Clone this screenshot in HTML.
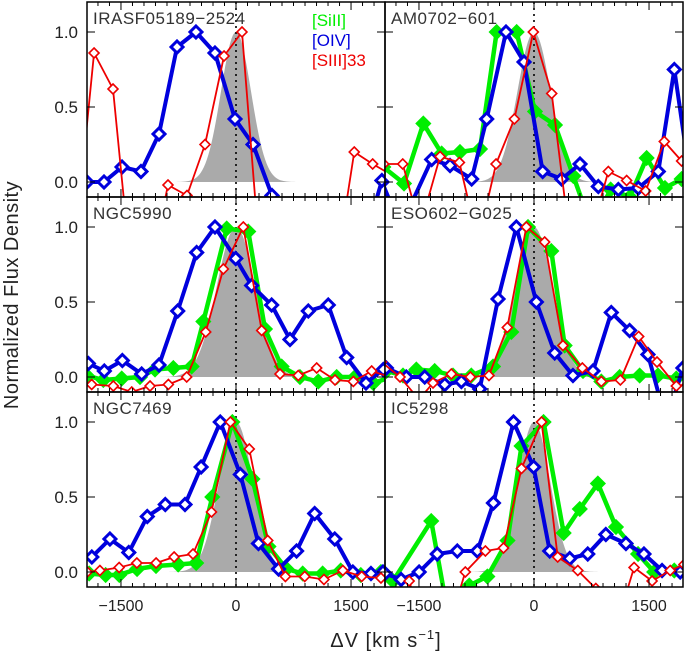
<!DOCTYPE html>
<html><head><meta charset="utf-8"><style>
html,body{margin:0;padding:0;background:#fff;}
svg{display:block;font-family:"Liberation Sans","DejaVu Sans",sans-serif;}
</style></head><body>
<svg id="chart" width="689" height="656" viewBox="0 0 689 656"></svg>
<script>
// ---- data ----
const panelNames = ["IRASF05189\u22122524","AM0702\u2212601","NGC5990","ESO602\u2212G025","NGC7469","IC5298"];
const gaussSigma = [195, 215, 250, 240, 220, 210];
const xTicks = [-1500, 0, 1500];
const xTickLabels = ["\u22121500", "0", "1500"];
const yTicks = [0, 0.5, 1.0];
const yTickLabels = ["0.0", "0.5", "1.0"];

// panel 0
const p0BlueV = [-1943,-1721,-1486,-1239,-1004,-769,-522,-274,-13,222,469,710,950,1190,1430,1670,1903];
const p0BlueF = [0,0,0.1,0.07,0.32,0.9,1.0,0.86,0.42,0.25,-0.09,-0.4,-0.4,-0.4,-0.4,-0.4,0.01];
const p0RedV = [-2095,-1851,-1604,-1369,-1121,-887,-639,-404,-156,78,326,560,800,1060,1300,1542,1782,2020];
const p0RedF = [-0.4,0.86,0.62,-0.6,-0.6,-0.02,-0.09,0.25,0.84,1.0,-0.6,-0.6,-0.6,-0.6,-0.6,0.2,0.12,0.05];
// panel 1
const p1GreenV = [-1965,-1695,-1443,-1204,-965,-704,-487,-226,13,274,513,750,1000,1250,1469,1708,1925];
const p1GreenF = [0.1,-0.01,0.39,0.19,0.2,0.22,1.0,1.0,0.47,0.38,0.04,-0.3,-0.05,-0.1,0.16,-0.04,0.02];
const p1BlueV = [-1982,-1740,-1334,-1095,-813,-617,-365,-130,113,361,600,839,1100,1360,1621,1830,2070];
const p1BlueF = [0.0,-0.3,0.15,0.11,0.02,0.42,1.0,0.8,0.07,0.02,0.12,-0.03,-0.05,-0.04,0.07,0.75,-0.1];
const p1RedV = [-1960,-1712,-1486,-1225,-973,-730,-495,-256,-9,231,470,710,969,1208,1456,1699,1925];
const p1RedF = [0.12,0.12,-0.3,0.17,0.13,-0.4,0.12,0.42,1.0,0.59,-0.4,-0.4,0.07,0.01,-0.06,0.27,0.14];
// panel 2
const p2GreenV = [-1947,-1730,-1490,-1252,-1056,-817,-578,-426,-121,160,378,596,834,1073,1313,1552,1790,2030];
const p2GreenF = [0.01,-0.02,-0.01,0.0,0.05,0.06,0.07,0.37,0.99,0.97,0.32,0.07,0.0,-0.03,0.0,0.0,-0.04,0.0];
const p2BlueV = [-1925,-1717,-1482,-1230,-1004,-760,-513,-274,-4,204,465,704,943,1203,1443,1695,1921];
const p2BlueF = [0.09,0.04,0.11,0.02,0.08,0.44,0.83,1.0,0.79,0.61,0.48,0.25,0.44,0.48,0.13,-0.04,0.05];
const p2RedV = [-1882,-1600,-1360,-1121,-882,-643,-395,-165,95,335,574,812,1052,1291,1530,1769,2008];
const p2RedF = [-0.05,-0.06,-0.1,-0.06,-0.05,0.0,0.3,0.72,1.0,0.31,0.02,0.01,0.06,-0.02,-0.03,0.04,0.0];
// panel 3
const p3GreenV = [-1925,-1708,-1534,-1295,-1056,-817,-534,-296,-78,226,400,639,878,1117,1378,1617,1856];
const p3GreenF = [0.04,0.01,0.05,0.04,0.01,0.01,0.07,0.3,1.0,0.84,0.21,0.04,-0.03,0.0,0.01,0.01,-0.01];
const p3BlueV = [-1925,-1665,-1425,-1164,-947,-708,-469,-230,31,270,508,769,1008,1247,1486,1725,1942];
const p3BlueF = [0.06,0.0,0.0,-0.05,-0.03,-0.08,0.52,1.0,0.5,0.16,0.01,0.04,0.43,0.31,0.15,-0.3,0.06];
const p3RedV = [-1990,-1747,-1500,-1317,-1078,-830,-587,-348,-100,139,378,630,878,1126,1365,1604,1856,2000];
const p3RedF = [0.1,0.0,-0.15,-0.04,0.02,0.0,0.01,0.33,1.0,0.9,0.21,0.06,-0.03,-0.02,0.27,0.1,-0.06,-0.05];
// panel 4
const p4GreenV = [-1915,-1700,-1522,-1290,-1043,-754,-519,-309,-47,215,424,660,870,1130,1366,1628,1890];
const p4GreenF = [-0.01,-0.02,-0.02,0.02,0.04,0.05,0.06,0.5,1.0,0.62,0.17,0.02,-0.01,-0.01,0.01,-0.02,0.0];
const p4BlueV = [-1880,-1644,-1398,-1157,-922,-665,-455,-205,57,293,555,790,1026,1288,1524,1760,1917];
const p4BlueF = [0.1,0.22,0.13,0.37,0.45,0.45,0.7,1.0,0.65,0.19,0.02,0.14,0.39,0.22,0.0,-0.01,0.0];
const p4RedV = [-1940,-1775,-1524,-1293,-1042,-807,-561,-320,-73,173,414,644,896,1147,1393,1639,1890];
const p4RedF = [0.0,0.01,0.03,0.06,0.06,0.1,0.12,0.4,1.0,0.82,0.21,-0.03,-0.03,-0.05,0.01,-0.03,-0.04];
// panel 5
const p5GreenV = [-1838,-1340,-1079,-844,-608,-345,-163,125,387,597,833,1069,1357,1567,1829];
const p5GreenF = [-0.06,0.34,-0.4,-0.09,-0.03,0.21,0.84,1.0,0.26,0.42,0.59,0.3,0.12,0.0,0.01];
const p5BlueV = [-1943,-1733,-1498,-1262,-1000,-738,-529,-267,-5,205,466,701,937,1199,1434,1670,1906];
const p5BlueF = [-0.01,-0.05,0.0,0.12,0.14,0.14,0.46,1.0,0.7,0.14,0.09,0.12,0.25,0.19,0.12,0.01,0.0];
const p5RedV = [-1628,-1366,-1132,-896,-634,-398,-163,99,309,571,806,1050,1305,1540,1776,1956];
const p5RedF = [-0.06,-0.5,-0.4,0.0,0.14,0.16,0.69,1.0,0.1,0.01,-0.11,-0.4,0.03,-0.06,0.01,0.05];

const panelSeries = [
  [null, [p0BlueV,p0BlueF], [p0RedV,p0RedF]],
  [[p1GreenV,p1GreenF],[p1BlueV,p1BlueF],[p1RedV,p1RedF]],
  [[p2GreenV,p2GreenF],[p2BlueV,p2BlueF],[p2RedV,p2RedF]],
  [[p3GreenV,p3GreenF],[p3BlueV,p3BlueF],[p3RedV,p3RedF]],
  [[p4GreenV,p4GreenF],[p4BlueV,p4BlueF],[p4RedV,p4RedF]],
  [[p5GreenV,p5GreenF],[p5BlueV,p5BlueF],[p5RedV,p5RedF]]
];

// ---- layout ----
const NS = "http://www.w3.org/2000/svg";
const svg = document.getElementById("chart");
const colL = [87, 385], colW = 298;
const rowT = [2, 197, 392], rowH = 195;
const XMIN = -1943, XMAX = 1943, YMIN = -0.1, YMAX = 1.2;
function mk(tag, attrs, parent){ const e=document.createElementNS(NS,tag); for(const k in attrs) e.setAttribute(k,attrs[k]); (parent||svg).appendChild(e); return e; }

const defs = mk("defs",{});
const serColors = ["#00ee00","#0000dd","#ee0000"];
const serFill = ["#00ee00","#ffffff","#ffffff"];
const serNames = ["siII","oIV","siIII33"];
const serW = [4.5, 4, 1.8];
const serM = [6, 6, 5];

for (let p=0;p<6;p++){
  const px = colL[p%2], py = rowT[Math.floor(p/2)];
  const xs = v => px + (v - XMIN)/(XMAX-XMIN)*colW;
  const ys = f => py + (YMAX - f)/(YMAX-YMIN)*rowH;
  const cp = mk("clipPath",{id:"clip"+p},defs);
  mk("rect",{x:px,y:py,width:colW,height:rowH},cp);
  const g = mk("g",{"clip-path":"url(#clip"+p+")"});
  
  
  let d = "M"+xs(-1300)+","+ys(0);
  for (let v=-1300; v<=1300; v+=20){ d += " L"+xs(v).toFixed(2)+","+ys(Math.exp(-v*v/(2*gaussSigma[p]*gaussSigma[p]))).toFixed(2); }
  d += " L"+xs(1300)+","+ys(0)+" Z";
  const ga = mk("path",{d:d,fill:"#aaaaaa",stroke:"none"},g);
  
  
  const zl = mk("line",{x1:xs(0),x2:xs(0),y1:py,y2:py+rowH,stroke:"#000","stroke-width":1.6,"stroke-dasharray":"2,4"},g);
  
  
  for (let s=0;s<3;s++){
    const ser = panelSeries[p][s];
    if (!ser) continue;
    const V = ser[0], F = ser[1];
    const sg = mk("g",{},g);
    
    
    const pts = V.map((v,i)=>xs(v).toFixed(2)+","+ys(F[i]).toFixed(2)).join(" ");
    mk("polyline",{points:pts,fill:"none",stroke:serColors[s],"stroke-width":serW[s],"stroke-linejoin":"round"},sg);
    for (let i=0;i<V.length;i++){
      const cx = xs(V[i]), cy = ys(F[i]), r = serM[s];
      const m = mk("polygon",{points:`${cx},${cy-r} ${cx+r},${cy} ${cx},${cy+r} ${cx-r},${cy}`,fill:serFill[s],stroke:serColors[s],"stroke-width":s==2?1.6:3},sg);
      
      
    }
  }
  const fr = mk("rect",{x:px,y:py,width:colW,height:rowH,fill:"none",stroke:"#000","stroke-width":1.5});
  
  
  for (let v=-1800; v<=1800; v+=150){
    const maj = xTicks.indexOf(v)>=0;
    const L = maj?8:4;
    mk("line",{x1:xs(v),x2:xs(v),y1:py+rowH,y2:py+rowH-L,stroke:"#000","stroke-width":1});
    mk("line",{x1:xs(v),x2:xs(v),y1:py,y2:py+L,stroke:"#000","stroke-width":1});
  }
  for (let i=0;i<yTicks.length;i++){
    mk("line",{x1:px,x2:px+8,y1:ys(yTicks[i]),y2:ys(yTicks[i]),stroke:"#000","stroke-width":1});
    mk("line",{x1:px+colW-8,x2:px+colW,y1:ys(yTicks[i]),y2:ys(yTicks[i]),stroke:"#000","stroke-width":1});
    if (p%2==0){
      const t = mk("text",{x:78,y:ys(yTicks[i])+6,"text-anchor":"end","font-size":17,fill:"#222"});
      t.textContent = yTickLabels[i];
      
      
    }
  }
  if (p>=4){
    for (let i=0;i<xTicks.length;i++){
      const t = mk("text",{x:xs(xTicks[i]),y:611,"text-anchor":"middle","font-size":16,fill:"#222"});
      t.textContent = xTickLabels[i];
      
      
    }
  }
  const nm = mk("text",{x:px+6,y:py+22,"font-size":17,fill:"#333","letter-spacing":"0.5"});
  nm.textContent = panelNames[p];
  
  
}
const legTexts = ["[SiII]","[OIV]","[SIII]33"];
for (let s=0;s<3;s++){
  const t = mk("text",{x:312,y:26+s*20,"font-size":17,fill:serColors[s]});
  t.textContent = legTexts[s];
  
  
}
const xt = mk("text",{x:386,y:647,"text-anchor":"middle","font-size":20,fill:"#222","letter-spacing":"1"});
xt.innerHTML = '\u0394V [km s<tspan dy="-8" font-size="13">\u22121</tspan><tspan dy="8">]</tspan>';


const yt = mk("text",{x:0,y:0,"text-anchor":"middle","font-size":20,fill:"#222",transform:"translate(18,295) rotate(-90)","letter-spacing":"0.5"});
yt.textContent = "Normalized Flux Density";


</script>
</body></html>
